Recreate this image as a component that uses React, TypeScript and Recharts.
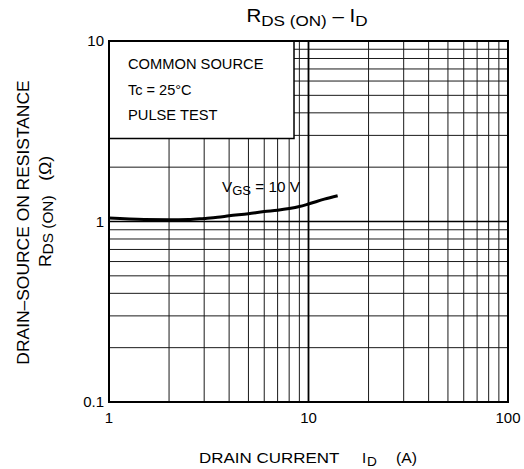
import React from 'react';
import { LineChart, Line, XAxis, YAxis, CartesianGrid, ReferenceArea, ReferenceLine } from 'recharts';

// Drain current I_D (A)
const currentA = [1, 1.5, 2, 2.5, 3, 3.5, 4, 5, 6, 7, 8, 9, 10, 12, 14];
// Drain-source on resistance R_DS(ON) (ohm), VGS = 10 V
const resistanceOhm = [1.045, 1.025, 1.022, 1.025, 1.04, 1.055, 1.075, 1.105, 1.135, 1.155, 1.18, 1.21, 1.25, 1.33, 1.39];

const xTicks = [1, 2, 3, 4, 5, 6, 7, 8, 9, 10, 20, 30, 40, 50, 60, 70, 80, 90, 100];
const yTicks = [0.1, 0.2, 0.3, 0.4, 0.5, 0.6, 0.7, 0.8, 0.9, 1, 2, 3, 4, 5, 6, 7, 8, 9, 10];
const xTickLabels = [1, 10, 100];
const yTickLabels = [0.1, 1, 10];

// legend box extent (data units)
const boxX = [1, 8.46];
const boxY = [2.88, 10];

const data = currentA.map((id, i) => ({ id, r: resistanceOhm[i] }));

const FONT = '"Liberation Sans", Arial, Helvetica, sans-serif';

function T(props: {
  x: number; y: number; size: number; sx?: number; rot?: number;
  anchor?: 'start' | 'middle' | 'end'; children: React.ReactNode;
}) {
  const { x, y, size, sx = 1, rot = 0, anchor = 'start', children } = props;
  return (
    <g transform={`translate(${x},${y}) rotate(${rot}) scale(${sx},1)`}>
      <text x={0} y={0} fontSize={size} textAnchor={anchor} fill="#000" fontFamily={FONT}>
        {children}
      </text>
    </g>
  );
}

export default function App() {
  return (
    <div style={{ position: 'absolute', left: 0, top: 0, width: 524, height: 469, background: '#fff', fontFamily: FONT }}>
      <LineChart width={524} height={469} data={data} margin={{ top: 41, right: 16, bottom: 37, left: 59 }}>
        <CartesianGrid stroke="#1a1a1a" strokeWidth={1} />
        <XAxis
          dataKey="id"
          type="number"
          scale="log"
          domain={[1, 100]}
          ticks={xTicks}
          allowDataOverflow
          height={30}
          tickLine={false}
          axisLine={false}
          tickSize={4}
          tickMargin={6}
          interval={0}
          tick={{ fill: '#000', fontSize: 15, fontFamily: FONT }}
          tickFormatter={(v: number) => (xTickLabels.includes(v) ? String(v) : '')}
        />
        <YAxis
          type="number"
          scale="log"
          domain={[0.1, 10]}
          ticks={yTicks}
          allowDataOverflow
          width={50}
          tickLine={false}
          axisLine={false}
          tickSize={4}
          tickMargin={1}
          interval={0}
          tick={{ fill: '#000', fontSize: 15, fontFamily: FONT }}
          tickFormatter={(v: number) => (yTickLabels.includes(v) ? String(v) : '')}
        />
        <ReferenceLine x={10} stroke="#000" strokeWidth={1.8} />
        <ReferenceLine y={1} stroke="#000" strokeWidth={1.4} />
        <ReferenceArea x1={boxX[0]} x2={boxX[1]} y1={boxY[0]} y2={boxY[1]} fill="#fff" fillOpacity={1} stroke="#000" strokeWidth={1.5} />
        <ReferenceArea x1={1} x2={100} y1={0.1} y2={10} fill="none" fillOpacity={0} stroke="#000" strokeWidth={2} />
        <Line dataKey="r" type="monotone" stroke="#000" strokeWidth={3} dot={false} isAnimationActive={false} />
      </LineChart>
      <svg width={524} height={469} style={{ position: 'absolute', left: 0, top: 0, pointerEvents: 'none' }}>
        {/* title */}
        <T x={307} y={22} size={18} sx={1.14} anchor="middle">
          R<tspan fontSize={15} dy={4}>DS (ON)</tspan>
          <tspan dy={-4} fontSize={18}> – I</tspan>
          <tspan fontSize={15} dy={4}>D</tspan>
        </T>
        {/* legend box text */}
        <T x={128} y={69} size={14} sx={1.05}>COMMON SOURCE</T>
        <T x={128} y={95} size={14} sx={1.04}>Tc = 25°C</T>
        <T x={128} y={120} size={14} sx={1.05}>PULSE TEST</T>
        {/* series label */}
        <T x={222} y={192} size={14} sx={1.09}>
          V<tspan fontSize={12} dy={3}>GS</tspan>
          <tspan fontSize={14} dy={-3}> = 10 V</tspan>
        </T>
        {/* x axis label */}
        <T x={199} y={463} size={15} sx={1.13}>DRAIN CURRENT</T>
        <T x={362} y={463} size={15}>I</T>
        <T x={367} y={466} size={13} sx={1.05}>D</T>
        <T x={396} y={463} size={15} sx={1.05}>(A)</T>
        {/* y axis label */}
        <T x={29} y={222.5} size={16} sx={1.09} rot={-90} anchor="middle">DRAIN–SOURCE ON RESISTANCE</T>
        <T x={51} y={211.5} size={16} sx={1.1} rot={-90} anchor="middle">
          R<tspan fontSize={14} dy={2}>DS (ON)</tspan>
          <tspan fontSize={16} dy={-2}>{'\u00a0\u00a0\u00a0(Ω)'}</tspan>
        </T>
      </svg>
    </div>
  );
}
